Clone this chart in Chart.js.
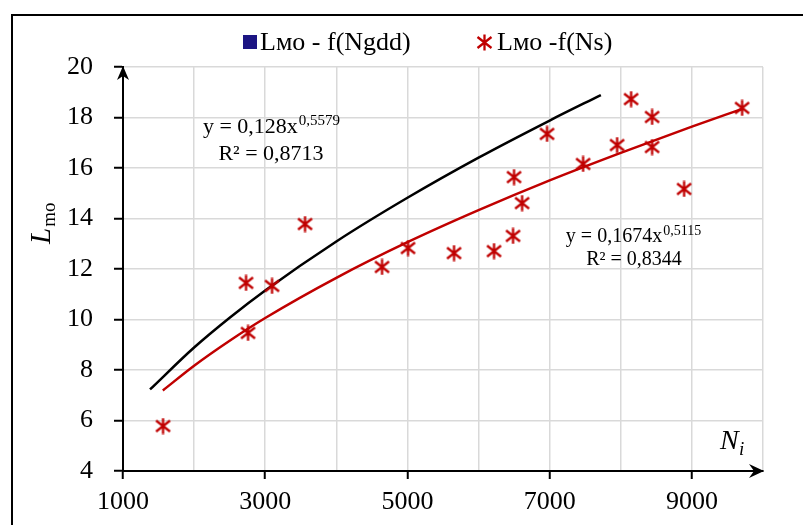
<!DOCTYPE html>
<html>
<head>
<meta charset="utf-8">
<script src="https://cdn.jsdelivr.net/npm/chart.js@4.4.1/dist/chart.umd.min.js"></script>
<style>
  html, body { margin: 0; padding: 0; background: #fff; }
  #wrap { width: 803px; height: 525px; position: relative; }
</style>
</head>
<body>
<div id="wrap"><canvas id="chart" width="803" height="525"></canvas></div>
<script>
// measured points Lмо = f(Ns)
const nsX = [1563, 2730, 2758, 3096, 3560, 4643, 5008, 5655, 6218, 6485, 6499, 6612, 6963, 7470, 7948, 8145, 8440, 8440, 8890, 9706];
const nsY = [5.78, 11.45, 9.47, 11.33, 13.78, 12.08, 12.83, 12.63, 12.71, 13.31, 15.64, 14.61, 17.35, 16.16, 16.91, 18.73, 18.02, 16.83, 15.17, 18.38];

// trend lines
const trendGddX = [1380, 2000, 2500, 3000, 4000, 5000, 6000, 7000, 7720];
const trendGddY = [7.23, 8.89, 10.07, 11.15, 13.09, 14.82, 16.41, 17.88, 18.89];
const trendNsX = [1560, 2000, 2500, 3000, 4000, 5000, 6000, 7000, 8000, 9000, 9700];
const trendNsY = [7.19, 8.17, 9.16, 10.06, 11.65, 13.06, 14.33, 15.51, 16.60, 17.64, 18.33];

// axis ticks
const xLabelTicks = [1000, 3000, 5000, 7000, 9000];
const yTicks = [4, 6, 8, 10, 12, 14, 16, 18, 20];

const legendNames = ['Lмо - f(Ngdd)', 'Lмо -f(Ns)'];
const eqGdd = ['y = 0,128x', '0,5579', 'R² = 0,8713'];
const eqNs = ['y = 0,1674x', '0,5115', 'R² = 0,8344'];

const RED = '#c00000';
const NAVY = '#1c1583';
const SERIF = '"Liberation Serif", "Times New Roman", serif';

const toPts = (xs, ys) => xs.map((x, i) => ({ x, y: ys[i] }));

function makeAsterisk(size, color) {
  const c = document.createElement('canvas');
  c.width = c.height = size;
  const g = c.getContext('2d');
  g.strokeStyle = color;
  g.lineWidth = 2.3;
  g.beginPath();
  g.moveTo(size / 2, 0.5); g.lineTo(size / 2, size - 0.5);
  g.moveTo(1.5, 3); g.lineTo(size - 1.5, size - 3);
  g.moveTo(size - 1.5, 3); g.lineTo(1.5, size - 3);
  g.stroke();
  return c;
}
const star = makeAsterisk(17, RED);

// text with a raised part, centred on cx
function eqLine(ctx, main, sup, cx, y, size) {
  ctx.font = size + 'px ' + SERIF;
  const w1 = ctx.measureText(main).width;
  ctx.font = Math.round(size * 0.68) + 'px ' + SERIF;
  const w2 = ctx.measureText(sup).width;
  const x0 = cx - (w1 + w2) / 2;
  ctx.textAlign = 'left';
  ctx.font = size + 'px ' + SERIF;
  ctx.fillText(main, x0, y);
  ctx.font = Math.round(size * 0.68) + 'px ' + SERIF;
  ctx.fillText(sup, x0 + w1 + 1, y - size * 0.36);
}

const decor = {
  id: 'decor',
  beforeDraw(chart) {
    const ctx = chart.ctx;
    ctx.save();
    ctx.fillStyle = '#fff';
    ctx.fillRect(0, 0, chart.width, chart.height);
    ctx.strokeStyle = '#000';
    ctx.lineWidth = 2;
    ctx.strokeRect(12, 15, 820, 540);
    ctx.restore();
  },
  afterDraw(chart) {
    const ctx = chart.ctx;
    const a = chart.chartArea;
    ctx.save();
    ctx.fillStyle = '#000';

    // arrow heads
    ctx.beginPath();
    ctx.moveTo(a.left, a.top - 1);
    ctx.lineTo(a.left - 6, a.top + 13);
    ctx.lineTo(a.left, a.top + 9);
    ctx.lineTo(a.left + 6, a.top + 13);
    ctx.closePath();
    ctx.fill();
    ctx.beginPath();
    ctx.moveTo(a.right + 1, a.bottom);
    ctx.lineTo(a.right - 14, a.bottom - 7);
    ctx.lineTo(a.right - 9, a.bottom);
    ctx.lineTo(a.right - 14, a.bottom + 7);
    ctx.closePath();
    ctx.fill();

    // axis titles
    ctx.save();
    ctx.translate(50, 244);
    ctx.rotate(-Math.PI / 2);
    ctx.textAlign = 'left';
    ctx.font = 'italic 29px ' + SERIF;
    ctx.fillText('L', 0, 0);
    const lw = ctx.measureText('L').width;
    ctx.font = '19px ' + SERIF;
    ctx.fillText('mo', lw + 1, 5);
    ctx.restore();

    ctx.textAlign = 'left';
    ctx.font = 'italic 28px ' + SERIF;
    ctx.fillText('N', 720, 449);
    ctx.font = 'italic 19px ' + SERIF;
    ctx.fillText('i', 739, 455);

    // trend equations
    eqLine(ctx, eqGdd[0], eqGdd[1], 271, 133, 22);
    ctx.font = '22px ' + SERIF;
    ctx.textAlign = 'center';
    ctx.fillText(eqGdd[2], 271, 160);
    eqLine(ctx, eqNs[0], eqNs[1], 633, 242, 20);
    ctx.font = '20px ' + SERIF;
    ctx.textAlign = 'center';
    ctx.fillText(eqNs[2], 634, 265);

    // legend
    ctx.fillStyle = NAVY;
    ctx.fillRect(243, 35, 14, 14);
    ctx.drawImage(star, 476, 34);
    ctx.fillStyle = '#000';
    ctx.textAlign = 'left';
    ctx.font = '26px ' + SERIF;
    ctx.fillText(legendNames[0], 260, 50);
    ctx.fillText(legendNames[1], 497, 50);
    ctx.restore();
  }
};

new Chart(document.getElementById('chart'), {
  type: 'scatter',
  data: {
    datasets: [
      {
        label: legendNames[1],
        data: toPts(nsX, nsY),
        pointStyle: star,
        pointRadius: 8,
        order: 0
      },
      {
        label: 'trend Ngdd',
        data: toPts(trendGddX, trendGddY),
        showLine: true,
        borderColor: '#000',
        borderWidth: 2.5,
        pointRadius: 0,
        cubicInterpolationMode: 'monotone',
        order: 1
      },
      {
        label: 'trend Ns',
        data: toPts(trendNsX, trendNsY),
        showLine: true,
        borderColor: RED,
        borderWidth: 2.5,
        pointRadius: 0,
        cubicInterpolationMode: 'monotone',
        order: 1
      }
    ]
  },
  options: {
    responsive: false,
    animation: false,
    layout: { padding: { top: 67, right: 40, left: 0, bottom: 0 } },
    plugins: { legend: { display: false }, tooltip: { enabled: false } },
    scales: {
      x: {
        type: 'linear',
        min: 1000,
        max: 10000,
        afterFit: s => { s.height = 54; },
        border: { color: '#000', width: 2 },
        grid: {
          color: '#d9d9d9',
          lineWidth: 1.5,
          tickLength: 8,
          tickWidth: 2,
          tickColor: c => xLabelTicks.includes(c.tick && c.tick.value) ? '#000' : 'rgba(0,0,0,0)'
        },
        ticks: {
          stepSize: 1000,
          autoSkip: false,
          maxRotation: 0,
          padding: 8,
          color: '#000',
          font: { family: SERIF, size: 26 },
          callback: v => xLabelTicks.includes(v) ? String(v) : ''
        }
      },
      y: {
        min: 4,
        max: 20,
        afterFit: s => { s.width = 123; },
        afterBuildTicks: s => { s.ticks = yTicks.map(v => ({ value: v })); },
        border: { color: '#000', width: 2 },
        grid: { color: '#d9d9d9', lineWidth: 1.5, tickLength: 9, tickWidth: 2, tickColor: '#000' },
        ticks: {
          padding: 21,
          color: '#000',
          font: { family: SERIF, size: 26 }
        }
      }
    }
  },
  plugins: [decor]
});
</script>
</body>
</html>
